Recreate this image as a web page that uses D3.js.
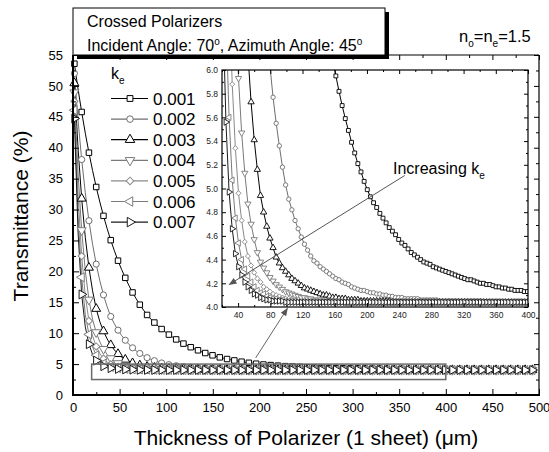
<!DOCTYPE html>
<html lang="en">
<head>
<meta charset="UTF-8">
<title>Crossed polarizers transmittance</title>
<script src="https://d3js.org/d3.v7.min.js"></script>
<style>
body { margin: 0; background: #fff; }
svg { display: block; font-family: "Liberation Sans", Arial, Helvetica, sans-serif; }
.axis path, .axis line { stroke: #000; }
.axis text { fill: #000; }
.inset-axis text { fill: #222; }
</style>
</head>
<body>
<div id="chart"></div>
<script>

// thickness of one sheet (um)
var thickness = [
  1.5, 5.4, 9.3, 13.2, 17.1, 21, 24.9, 28.8, 32.7, 36.6,
  40.5, 44.4, 48.3, 52.2, 56.1, 60, 63.9, 67.8, 71.7, 75.6,
  79.5, 83.4, 87.3, 91.2, 95.1, 99, 102.9, 106.8, 110.7, 114.6,
  118.5, 122.4, 126.3, 130.2, 134.1, 138, 141.9, 145.8, 149.7, 153.6,
  157.5, 161.4, 165.3, 169.2, 173.1, 177, 180.9, 184.8, 188.7, 192.6,
  196.5, 200.4, 204.3, 208.2, 212.1, 216, 219.9, 223.8, 227.7, 231.6,
  235.5, 239.4, 243.3, 247.2, 251.1, 255, 258.9, 262.8, 266.7, 270.6,
  274.5, 278.4, 282.3, 286.2, 290.1, 294, 297.9, 301.8, 305.7, 309.6,
  313.5, 317.4, 321.3, 325.2, 329.1, 333, 336.9, 340.8, 344.7, 348.6,
  352.5, 356.4, 360.3, 364.2, 368.1, 372, 375.9, 379.8, 383.7, 387.6,
  391.5, 395.4, 399.3, 403.2, 407.1, 411, 414.9, 418.8, 422.7, 426.6,
  430.5, 434.4, 438.3, 442.2, 446.1, 450, 453.9, 457.8, 461.7, 465.6,
  469.5, 473.4, 477.3, 481.2, 485.1, 489, 492.9, 496.8
];

// transmittance (%) for each k_e
var ke001 = [
  53.59, 49.51, 45.78, 42.35, 39.20, 36.31, 33.65, 31.22, 28.98, 26.93,
  25.05, 23.33, 21.73, 20.28, 18.95, 17.72, 16.59, 15.56, 14.61, 13.75,
  12.95, 12.31, 11.72, 11.18, 10.67, 10.21, 9.77, 9.36, 8.99, 8.64,
  8.31, 8.01, 7.73, 7.47, 7.23, 7.00, 6.79, 6.60, 6.42, 6.25,
  6.09, 5.95, 5.82, 5.70, 5.59, 5.49, 5.39, 5.30, 5.21, 5.14,
  5.06, 4.99, 4.93, 4.88, 4.84, 4.79, 4.75, 4.71, 4.67, 4.64,
  4.61, 4.57, 4.54, 4.52, 4.49, 4.46, 4.44, 4.42, 4.40, 4.38,
  4.37, 4.36, 4.34, 4.33, 4.32, 4.31, 4.30, 4.29, 4.28, 4.27,
  4.26, 4.25, 4.24, 4.23, 4.23, 4.22, 4.21, 4.20, 4.20, 4.19,
  4.19, 4.18, 4.17, 4.17, 4.16, 4.16, 4.15, 4.15, 4.14, 4.14,
  4.14, 4.13, 4.13, 4.13, 4.12, 4.12, 4.12, 4.11, 4.11, 4.11,
  4.11, 4.10, 4.10, 4.10, 4.10, 4.09, 4.09, 4.09, 4.09, 4.09,
  4.08, 4.08, 4.08, 4.08, 4.08, 4.08, 4.07, 4.07
];
var ke002 = [
  52.02, 44.46, 38.09, 32.71, 28.19, 24.39, 21.17, 18.48, 16.19, 14.28,
  12.70, 11.51, 10.49, 9.61, 8.86, 8.19, 7.63, 7.14, 6.72, 6.35,
  6.04, 5.77, 5.55, 5.36, 5.18, 5.03, 4.91, 4.82, 4.73, 4.66,
  4.59, 4.53, 4.48, 4.43, 4.39, 4.37, 4.34, 4.32, 4.30, 4.28,
  4.26, 4.24, 4.23, 4.21, 4.20, 4.19, 4.17, 4.16, 4.15, 4.14,
  4.14, 4.13, 4.12, 4.12, 4.11, 4.11, 4.10, 4.10, 4.09, 4.09,
  4.08, 4.08, 4.08, 4.07, 4.07, 4.07, 4.07, 4.07, 4.06, 4.06,
  4.06, 4.06, 4.06, 4.06, 4.05, 4.05, 4.05, 4.05, 4.05, 4.05,
  4.05, 4.05, 4.05, 4.05, 4.05, 4.05, 4.05, 4.05, 4.04, 4.04,
  4.04, 4.04, 4.04, 4.04, 4.04, 4.04, 4.04, 4.04, 4.04, 4.04,
  4.04, 4.04, 4.04, 4.04, 4.04, 4.04, 4.04, 4.04, 4.04, 4.04,
  4.04, 4.04, 4.04, 4.04, 4.04, 4.04, 4.04, 4.04, 4.04, 4.04,
  4.04, 4.04, 4.04, 4.04, 4.04, 4.04, 4.04, 4.04
];
var ke003 = [
  50.45, 39.93, 31.78, 25.48, 20.61, 16.85, 13.95, 11.86, 10.32, 9.08,
  8.08, 7.29, 6.64, 6.13, 5.73, 5.41, 5.16, 4.94, 4.80, 4.68,
  4.58, 4.50, 4.42, 4.37, 4.33, 4.30, 4.27, 4.24, 4.22, 4.20,
  4.18, 4.16, 4.15, 4.14, 4.13, 4.12, 4.11, 4.10, 4.10, 4.09,
  4.08, 4.08, 4.07, 4.07, 4.07, 4.06, 4.06, 4.06, 4.06, 4.05,
  4.05, 4.05, 4.05, 4.05, 4.05, 4.05, 4.05, 4.05, 4.05, 4.04,
  4.04, 4.04, 4.04, 4.04, 4.04, 4.04, 4.04, 4.04, 4.04, 4.04,
  4.04, 4.04, 4.04, 4.04, 4.04, 4.04, 4.04, 4.04, 4.04, 4.04,
  4.04, 4.04, 4.04, 4.04, 4.04, 4.04, 4.04, 4.04, 4.04, 4.04,
  4.04, 4.04, 4.04, 4.04, 4.04, 4.04, 4.04, 4.04, 4.04, 4.04,
  4.04, 4.04, 4.04, 4.04, 4.04, 4.04, 4.04, 4.04, 4.04, 4.04,
  4.04, 4.04, 4.04, 4.04, 4.04, 4.04, 4.04, 4.04, 4.04, 4.04,
  4.04, 4.04, 4.04, 4.04, 4.04, 4.04, 4.04, 4.04
];
var ke004 = [
  48.94, 35.90, 26.64, 20.08, 15.41, 12.22, 10.14, 8.59, 7.43, 6.57,
  5.93, 5.47, 5.13, 4.87, 4.70, 4.57, 4.46, 4.38, 4.33, 4.29,
  4.25, 4.22, 4.19, 4.17, 4.15, 4.13, 4.12, 4.11, 4.10, 4.09,
  4.08, 4.08, 4.07, 4.07, 4.06, 4.06, 4.06, 4.05, 4.05, 4.05,
  4.05, 4.05, 4.05, 4.05, 4.04, 4.04, 4.04, 4.04, 4.04, 4.04,
  4.04, 4.04, 4.04, 4.04, 4.04, 4.04, 4.04, 4.04, 4.04, 4.04,
  4.04, 4.04, 4.04, 4.04, 4.04, 4.04, 4.04, 4.04, 4.04, 4.04,
  4.04, 4.04, 4.04, 4.04, 4.04, 4.04, 4.04, 4.04, 4.04, 4.04,
  4.04, 4.04, 4.04, 4.04, 4.04, 4.04, 4.04, 4.04, 4.04, 4.04,
  4.04, 4.04, 4.04, 4.04, 4.04, 4.04, 4.04, 4.04, 4.04, 4.04,
  4.04, 4.04, 4.04, 4.04, 4.04, 4.04, 4.04, 4.04, 4.04, 4.04,
  4.04, 4.04, 4.04, 4.04, 4.04, 4.04, 4.04, 4.04, 4.04, 4.04,
  4.04, 4.04, 4.04, 4.04, 4.04, 4.04, 4.04, 4.04
];
var ke005 = [
  47.50, 32.34, 22.47, 16.04, 11.99, 9.55, 7.86, 6.69, 5.88, 5.34,
  4.96, 4.73, 4.55, 4.43, 4.35, 4.29, 4.24, 4.21, 4.17, 4.15,
  4.13, 4.11, 4.10, 4.09, 4.08, 4.07, 4.07, 4.06, 4.06, 4.06,
  4.05, 4.05, 4.05, 4.05, 4.05, 4.04, 4.04, 4.04, 4.04, 4.04,
  4.04, 4.04, 4.04, 4.04, 4.04, 4.04, 4.04, 4.04, 4.04, 4.04,
  4.04, 4.04, 4.04, 4.04, 4.04, 4.04, 4.04, 4.04, 4.04, 4.04,
  4.04, 4.04, 4.04, 4.04, 4.04, 4.04, 4.04, 4.04, 4.04, 4.04,
  4.04, 4.04, 4.04, 4.04, 4.04, 4.04, 4.04, 4.04, 4.04, 4.04,
  4.04, 4.04, 4.04, 4.04, 4.04, 4.04, 4.04, 4.04, 4.04, 4.04,
  4.04, 4.04, 4.04, 4.04, 4.04, 4.04, 4.04, 4.04, 4.04, 4.04,
  4.04, 4.04, 4.04, 4.04, 4.04, 4.04, 4.04, 4.04, 4.04, 4.04,
  4.04, 4.04, 4.04, 4.04, 4.04, 4.04, 4.04, 4.04, 4.04, 4.04,
  4.04, 4.04, 4.04, 4.04, 4.04, 4.04, 4.04, 4.04
];
var ke006 = [
  46.07, 29.15, 19.05, 13.01, 9.80, 7.75, 6.43, 5.60, 5.07, 4.75,
  4.54, 4.40, 4.32, 4.26, 4.21, 4.17, 4.14, 4.12, 4.11, 4.09,
  4.08, 4.07, 4.07, 4.06, 4.06, 4.05, 4.05, 4.05, 4.05, 4.04,
  4.04, 4.04, 4.04, 4.04, 4.04, 4.04, 4.04, 4.04, 4.04, 4.04,
  4.04, 4.04, 4.04, 4.04, 4.04, 4.04, 4.04, 4.04, 4.04, 4.04,
  4.04, 4.04, 4.04, 4.04, 4.04, 4.04, 4.04, 4.04, 4.04, 4.04,
  4.04, 4.04, 4.04, 4.04, 4.04, 4.04, 4.04, 4.04, 4.04, 4.04,
  4.04, 4.04, 4.04, 4.04, 4.04, 4.04, 4.04, 4.04, 4.04, 4.04,
  4.04, 4.04, 4.04, 4.04, 4.04, 4.04, 4.04, 4.04, 4.04, 4.04,
  4.04, 4.04, 4.04, 4.04, 4.04, 4.04, 4.04, 4.04, 4.04, 4.04,
  4.04, 4.04, 4.04, 4.04, 4.04, 4.04, 4.04, 4.04, 4.04, 4.04,
  4.04, 4.04, 4.04, 4.04, 4.04, 4.04, 4.04, 4.04, 4.04, 4.04,
  4.04, 4.04, 4.04, 4.04, 4.04, 4.04, 4.04, 4.04
];
var ke007 = [
  44.72, 26.35, 16.27, 11.02, 8.22, 6.54, 5.56, 4.97, 4.66, 4.45,
  4.34, 4.27, 4.21, 4.17, 4.14, 4.11, 4.10, 4.08, 4.07, 4.06,
  4.06, 4.05, 4.05, 4.05, 4.05, 4.04, 4.04, 4.04, 4.04, 4.04,
  4.04, 4.04, 4.04, 4.04, 4.04, 4.04, 4.04, 4.04, 4.04, 4.04,
  4.04, 4.04, 4.04, 4.04, 4.04, 4.04, 4.04, 4.04, 4.04, 4.04,
  4.04, 4.04, 4.04, 4.04, 4.04, 4.04, 4.04, 4.04, 4.04, 4.04,
  4.04, 4.04, 4.04, 4.04, 4.04, 4.04, 4.04, 4.04, 4.04, 4.04,
  4.04, 4.04, 4.04, 4.04, 4.04, 4.04, 4.04, 4.04, 4.04, 4.04,
  4.04, 4.04, 4.04, 4.04, 4.04, 4.04, 4.04, 4.04, 4.04, 4.04,
  4.04, 4.04, 4.04, 4.04, 4.04, 4.04, 4.04, 4.04, 4.04, 4.04,
  4.04, 4.04, 4.04, 4.04, 4.04, 4.04, 4.04, 4.04, 4.04, 4.04,
  4.04, 4.04, 4.04, 4.04, 4.04, 4.04, 4.04, 4.04, 4.04, 4.04,
  4.04, 4.04, 4.04, 4.04, 4.04, 4.04, 4.04, 4.04
];

var keLabels = ["0.001", "0.002", "0.003", "0.004", "0.005", "0.006", "0.007"];

var xTicks = [0, 50, 100, 150, 200, 250, 300, 350, 400, 450, 500];
var xMinor = [25, 75, 125, 175, 225, 275, 325, 375, 425, 475];
var yTicks = [0, 5, 10, 15, 20, 25, 30, 35, 40, 45, 50, 55];
var yMinor = [2.5, 7.5, 12.5, 17.5, 22.5, 27.5, 32.5, 37.5, 42.5, 47.5, 52.5];
var insetXTicks = [40, 80, 120, 160, 200, 240, 280, 320, 360, 400];
var insetXMinor = [20, 60, 100, 140, 180, 220, 260, 300, 340, 380];
var insetYTicks = [4.0, 4.2, 4.4, 4.6, 4.8, 5.0, 5.2, 5.4, 5.6, 5.8, 6.0];
var insetYMinor = [4.1, 4.3, 4.5, 4.7, 4.9, 5.1, 5.3, 5.5, 5.7, 5.9];

// zoom box drawn on the main plot: [x0, x1], [y0, y1]
var zoomBoxX = [20, 400];
var zoomBoxY = [2.5, 5];

var series = [ke001, ke002, ke003, ke004, ke005, ke006, ke007];
var colors = ["#000000", "#6e6e6e", "#000000", "#7a7a7a", "#8a8a8a", "#7a7a7a", "#1a1a1a"];
var shapes = ["square", "circle", "up", "down", "diamond", "left", "right"];

var width = 549, height = 452;

var svg = d3.select("#chart").append("svg")
    .attr("width", width)
    .attr("height", height);

var defs = svg.append("defs");
defs.append("marker")
    .attr("id", "arrow")
    .attr("viewBox", "0 0 10 10")
    .attr("refX", 9).attr("refY", 5)
    .attr("markerWidth", 10).attr("markerHeight", 8)
    .attr("markerUnits", "userSpaceOnUse")
    .attr("orient", "auto")
  .append("path")
    .attr("d", "M0,1 L10,5 L0,9 Z")
    .attr("fill", "#555");

var x = d3.scaleLinear().domain([0, 500]).range([73, 539]);
var y = d3.scaleLinear().domain([0, 55]).range([395, 55]);

function symbolPath(shape, size) {
  var type = d3.symbolTriangle;
  if (shape === "square" || shape === "diamond") type = d3.symbolSquare;
  if (shape === "circle") type = d3.symbolCircle;
  var s = size;
  if (type === d3.symbolTriangle) s = size * 1.15;
  if (shape === "diamond") s = size * 0.85;
  return d3.symbol().type(type).size(s)();
}
function symbolRotate(shape) {
  var r = { down: 180, left: -90, right: 90, diamond: 45 };
  return r[shape] || 0;
}

function pairs(vals) {
  var n = Math.min(vals.length, thickness.length);
  var out = [];
  for (var j = 0; j < n; j++) out.push({ t: thickness[j], v: vals[j], j: j });
  return out;
}

// ---- main plot ----
var main = svg.append("g");
var line = d3.line()
    .x(function(d) { return x(d.t); })
    .y(function(d) { return y(d.v); });

series.forEach(function(vals, i) {
  main.append("path")
      .datum(pairs(vals))
      .attr("d", line)
      .attr("fill", "none")
      .attr("stroke", colors[i])
      .attr("stroke-width", 1);
});
series.forEach(function(vals, i) {
  var pts = pairs(vals).filter(function(d) { return d.j % 2 === 0; });
  main.selectAll(null).data(pts).enter().append("path")
      .attr("d", symbolPath(shapes[i], 30))
      .attr("transform", function(d) {
        return "translate(" + x(d.t) + "," + y(d.v) + ") rotate(" + symbolRotate(shapes[i]) + ")";
      })
      .attr("fill", "#fff")
      .attr("stroke", colors[i])
      .attr("stroke-width", 1);
});

// zoom box
main.append("rect")
    .attr("x", x(zoomBoxX[0]))
    .attr("y", y(zoomBoxY[1]))
    .attr("width", x(zoomBoxX[1]) - x(zoomBoxX[0]))
    .attr("height", y(zoomBoxY[0]) - y(zoomBoxY[1]))
    .attr("fill", "none")
    .attr("stroke", "#6a6a6a")
    .attr("stroke-width", 1.5);

// main axes (ticks point inward)
function drawAxis(g, axis, cls) {
  g.attr("class", "axis " + (cls || "")).call(axis);
  g.select(".domain").remove();
}
var gx = svg.append("g").attr("transform", "translate(0,395)");
drawAxis(gx, d3.axisBottom(x).tickValues(xTicks).tickSize(-6).tickSizeOuter(0).tickPadding(8));
gx.selectAll("text").style("font-size", "13px");
drawAxis(svg.append("g").attr("transform", "translate(0,395)"),
  d3.axisBottom(x).tickValues(xMinor).tickSize(-3).tickFormat(""));
drawAxis(svg.append("g").attr("transform", "translate(0,55)"),
  d3.axisTop(x).tickValues(xTicks).tickSize(-5).tickFormat(""));
drawAxis(svg.append("g").attr("transform", "translate(0,55)"),
  d3.axisTop(x).tickValues(xMinor).tickSize(-3).tickFormat(""));

var gy = svg.append("g").attr("transform", "translate(73,0)");
drawAxis(gy, d3.axisLeft(y).tickValues(yTicks).tickSize(-6).tickSizeOuter(0).tickPadding(10));
gy.selectAll("text").style("font-size", "13px");
drawAxis(svg.append("g").attr("transform", "translate(73,0)"),
  d3.axisLeft(y).tickValues(yMinor).tickSize(-3).tickFormat(""));
drawAxis(svg.append("g").attr("transform", "translate(539,0)"),
  d3.axisRight(y).tickValues(yTicks).tickSize(-5).tickFormat(""));
drawAxis(svg.append("g").attr("transform", "translate(539,0)"),
  d3.axisRight(y).tickValues(yMinor).tickSize(-3).tickFormat(""));

// frame
svg.append("line").attr("x1", 73).attr("x2", 539).attr("y1", 55).attr("y2", 55)
    .attr("stroke", "#000").attr("stroke-width", 1.2);
svg.append("line").attr("x1", 539).attr("x2", 539).attr("y1", 55).attr("y2", 395)
    .attr("stroke", "#000").attr("stroke-width", 1.2);
svg.append("line").attr("x1", 72).attr("x2", 540).attr("y1", 395).attr("y2", 395)
    .attr("stroke", "#000").attr("stroke-width", 2);
svg.append("line").attr("x1", 73).attr("x2", 73).attr("y1", 55).attr("y2", 396)
    .attr("stroke", "#000").attr("stroke-width", 2);

// axis titles
svg.append("text")
    .attr("x", 306).attr("y", 445)
    .attr("text-anchor", "middle")
    .style("font-size", "21px")
    .text("Thickness of Polarizer (1 sheet) (\u03bcm)");
svg.append("text")
    .attr("transform", "translate(28,216) rotate(-90)")
    .attr("text-anchor", "middle")
    .style("font-size", "21px")
    .text("Transmittance (%)");

// ---- legend inside main plot ----
var legend = svg.append("g");
var kLab = legend.append("text").attr("x", 111).attr("y", 79).style("font-size", "16px");
kLab.append("tspan").text("k");
kLab.append("tspan").attr("dy", 5).style("font-size", "10px").text("e");

keLabels.forEach(function(lab, i) {
  var cy = 98.5 + i * 20.6;
  legend.append("line")
      .attr("x1", 111).attr("x2", 148).attr("y1", cy).attr("y2", cy)
      .attr("stroke", colors[i]).attr("stroke-width", 1.2);
  legend.append("path")
      .attr("d", symbolPath(shapes[i], 34))
      .attr("transform", "translate(130," + cy + ") rotate(" + symbolRotate(shapes[i]) + ")")
      .attr("fill", "#fff").attr("stroke", colors[i]).attr("stroke-width", 1);
  legend.append("text")
      .attr("x", 153).attr("y", cy + 6)
      .style("font-size", "17px")
      .text(lab);
});

// ---- title box ----
svg.append("rect").attr("x", 77).attr("y", 12).attr("width", 312).attr("height", 47).attr("fill", "#000");
svg.append("rect").attr("x", 73).attr("y", 8).attr("width", 312).attr("height", 47)
    .attr("fill", "#fff").attr("stroke", "#000").attr("stroke-width", 1);
svg.append("text").attr("x", 87).attr("y", 27).style("font-size", "16px").text("Crossed Polarizers");
var t2 = svg.append("text").attr("x", 87).attr("y", 51).style("font-size", "16px");
t2.append("tspan").text("Incident Angle: 70");
t2.append("tspan").attr("dy", -6).style("font-size", "10px").text("o");
t2.append("tspan").attr("dy", 6).text(", Azimuth Angle: 45");
t2.append("tspan").attr("dy", -6).style("font-size", "10px").text("o");

var nt = svg.append("text").attr("x", 459).attr("y", 42).style("font-size", "16.5px");
nt.append("tspan").text("n");
nt.append("tspan").attr("dy", 5).style("font-size", "10px").text("o");
nt.append("tspan").attr("dy", -5).text("=n");
nt.append("tspan").attr("dy", 5).style("font-size", "10px").text("e");
nt.append("tspan").attr("dy", -5).text("=1.5");

// ---- inset ----
var ix = d3.scaleLinear().domain([20, 400]).range([222, 528]);
var iy = d3.scaleLinear().domain([4, 6]).range([307, 70]);

var inset = svg.append("g");
inset.append("rect")
    .attr("x", 222).attr("y", 70).attr("width", 306).attr("height", 237)
    .attr("fill", "#fff");

defs.append("clipPath").attr("id", "insetClip")
  .append("rect").attr("x", 222).attr("y", 70).attr("width", 306).attr("height", 237);

var insetPlot = inset.append("g").attr("clip-path", "url(#insetClip)");
var iline = d3.line()
    .x(function(d) { return ix(d.t); })
    .y(function(d) { return iy(d.v); });

series.forEach(function(vals, i) {
  var pts = pairs(vals).filter(function(d) { return d.t > 12 && d.t < 410; });
  insetPlot.append("path")
      .datum(pts)
      .attr("d", iline)
      .attr("fill", "none")
      .attr("stroke", colors[i])
      .attr("stroke-width", 1);
});
series.forEach(function(vals, i) {
  var pts = pairs(vals).filter(function(d) { return d.t > 14 && d.t < 404 && d.v < 6.1; });
  insetPlot.selectAll(null).data(pts).enter().append("path")
      .attr("d", symbolPath(shapes[i], 15))
      .attr("transform", function(d) {
        return "translate(" + ix(d.t) + "," + iy(d.v) + ") rotate(" + symbolRotate(shapes[i]) + ")";
      })
      .attr("fill", "#fff")
      .attr("stroke", colors[i])
      .attr("stroke-width", 0.9);
});

var igx = inset.append("g").attr("transform", "translate(0,307)");
drawAxis(igx, d3.axisBottom(ix).tickValues(insetXTicks).tickSize(-4).tickSizeOuter(0).tickPadding(5), "inset-axis");
igx.selectAll("text").style("font-size", "8.5px");
drawAxis(inset.append("g").attr("transform", "translate(0,307)"),
  d3.axisBottom(ix).tickValues(insetXMinor).tickSize(-2).tickFormat(""));
drawAxis(inset.append("g").attr("transform", "translate(0,70)"),
  d3.axisTop(ix).tickValues(insetXTicks).tickSize(-4).tickFormat(""));
drawAxis(inset.append("g").attr("transform", "translate(0,70)"),
  d3.axisTop(ix).tickValues(insetXMinor).tickSize(-2).tickFormat(""));

var igy = inset.append("g").attr("transform", "translate(222,0)");
drawAxis(igy, d3.axisLeft(iy).tickValues(insetYTicks).tickSize(-4).tickSizeOuter(0).tickPadding(4)
  .tickFormat(d3.format(".1f")), "inset-axis");
igy.selectAll("text").style("font-size", "8.5px");
drawAxis(inset.append("g").attr("transform", "translate(222,0)"),
  d3.axisLeft(iy).tickValues(insetYMinor).tickSize(-2).tickFormat(""));
drawAxis(inset.append("g").attr("transform", "translate(528,0)"),
  d3.axisRight(iy).tickValues(insetYTicks).tickSize(-4).tickFormat(""));
drawAxis(inset.append("g").attr("transform", "translate(528,0)"),
  d3.axisRight(iy).tickValues(insetYMinor).tickSize(-2).tickFormat(""));

inset.append("rect")
    .attr("x", 222).attr("y", 70).attr("width", 306).attr("height", 237)
    .attr("fill", "none").attr("stroke", "#000").attr("stroke-width", 1.2);

// ---- annotations ----
// arrow from zoom box up to inset
svg.append("line")
    .attr("x1", x(196)).attr("y1", y(6.0))
    .attr("x2", x(230)).attr("y2", y(14.0))
    .attr("stroke", "#666").attr("stroke-width", 1)
    .attr("marker-end", "url(#arrow)");

// increasing k_e arrow in inset
svg.append("line")
    .attr("x1", ix(247)).attr("y1", iy(5.11))
    .attr("x2", ix(29)).attr("y2", iy(4.19))
    .attr("stroke", "#555").attr("stroke-width", 1)
    .attr("marker-end", "url(#arrow)");
var inc = svg.append("text").attr("x", 393).attr("y", 174).style("font-size", "16px");
inc.append("tspan").text("Increasing k");
inc.append("tspan").attr("dy", 5).style("font-size", "10px").text("e");

</script>
</body>
</html>
